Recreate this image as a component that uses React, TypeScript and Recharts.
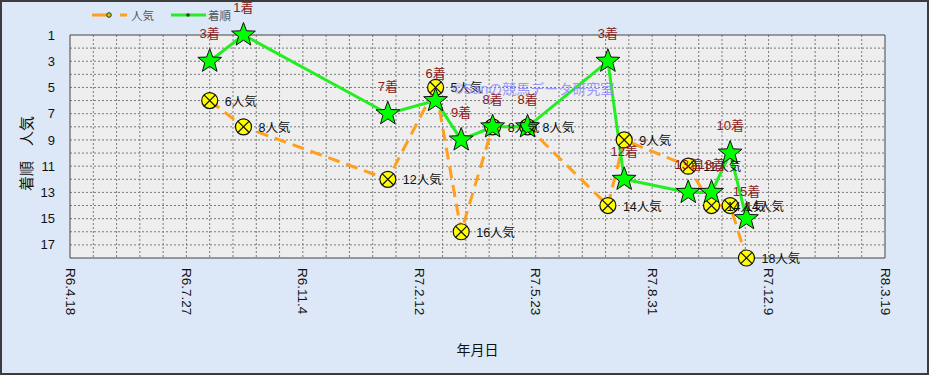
import React from "react";
import {
  ComposedChart,
  Line,
  XAxis,
  YAxis,
  CartesianGrid,
  LabelList,
  ReferenceArea,
} from "recharts";

// race dates, finishing position (着順) and popularity (人気)
const raceDates = [
  "2024-08-16",
  "2024-09-14",
  "2025-01-16",
  "2025-02-26",
  "2025-03-20",
  "2025-04-16",
  "2025-05-16",
  "2025-07-24",
  "2025-08-07",
  "2025-10-01",
  "2025-10-21",
  "2025-11-06",
  "2025-11-20",
];
const finishes = [3, 1, 7, 6, 9, 8, 8, 3, 12, 13, 13, 10, 15];
const popularity = [6, 8, 12, 5, 16, 8, 8, 14, 9, 11, 14, 14, 18];

const startDate = "2024-04-18";
const xTickDates = [
  "2024-04-18",
  "2024-07-27",
  "2024-11-04",
  "2025-02-12",
  "2025-05-23",
  "2025-08-31",
  "2025-12-09",
  "2026-03-19",
];
const yTicks = [1, 3, 5, 7, 9, 11, 13, 15, 17];

const DAY = 86400000;
const toDay = (s: string) =>
  Math.round((Date.parse(s + "T00:00:00Z") - Date.parse(startDate + "T00:00:00Z")) / DAY);

const fromDay = (d: number) => {
  const dt = new Date(Date.parse(startDate + "T00:00:00Z") + d * DAY);
  return `R${dt.getUTCFullYear() - 2018}.${dt.getUTCMonth() + 1}.${dt.getUTCDate()}`;
};

const xTicks = xTickDates.map(toDay);
const xMin = xTicks[0];
const xMax = xTicks[xTicks.length - 1];

const data = raceDates.map((d, i) => ({
  day: toDay(d),
  rank: finishes[i],
  pop: popularity[i],
}));

const minorX: number[] = [];
for (let d = xMin + 20; d < xMax; d += 20) minorX.push(d);
const minorY: number[] = [];
for (let v = 2; v < 18; v++) minorY.push(v);

const FONT = "'Liberation Sans', 'Noto Sans CJK JP', sans-serif";
const GREEN = "#22ee22";
const ORANGE = "#ff9f1c";

function StarDot(props: any) {
  const { cx, cy } = props;
  if (cx == null || cy == null) return null;
  const R = 12.5;
  const r = 5.2;
  const pts: string[] = [];
  for (let i = 0; i < 10; i++) {
    const a = -Math.PI / 2 + (i * Math.PI) / 5;
    const rad = i % 2 === 0 ? R : r;
    pts.push(`${cx + rad * Math.cos(a)},${cy + rad * Math.sin(a)}`);
  }
  return <polygon points={pts.join(" ")} fill="#00ff00" stroke="#111" strokeWidth={1} />;
}

function CrossDot(props: any) {
  const { cx, cy } = props;
  if (cx == null || cy == null) return null;
  const k = 5.7;
  return (
    <g>
      <circle cx={cx} cy={cy} r={8} fill="#ffff00" stroke="#111" strokeWidth={1.2} />
      <line x1={cx - k} y1={cy - k} x2={cx + k} y2={cy + k} stroke="#111" strokeWidth={1.2} />
      <line x1={cx - k} y1={cy + k} x2={cx + k} y2={cy - k} stroke="#111" strokeWidth={1.2} />
    </g>
  );
}

const XTick = (props: any) => {
  const { x, y, payload } = props;
  return (
    <text
      x={x}
      y={y}
      transform={`rotate(90 ${x} ${y})`}
      textAnchor="start"
      dominantBaseline="central"
      fontSize={13.5}
      fontFamily={FONT}
      fill="#111"
    >
      {fromDay(payload.value)}
    </text>
  );
};

const YLabel = (props: any) => {
  const { viewBox } = props;
  const x = viewBox.x + 26;
  const y = viewBox.y + viewBox.height / 2 + 7;
  return (
    <text
      x={x}
      y={y}
      transform={`rotate(-90 ${x} ${y})`}
      textAnchor="middle"
      dominantBaseline="central"
      fontSize={15}
      fill="#111"
      fontFamily={FONT}
    >
      着順　人気
    </text>
  );
};

// legend drawn apart from the chart so it does not take plot space
const LegendBox = () => (
  <svg
    width={160}
    height={20}
    style={{ position: "absolute", left: 92, top: 5, display: "block" }}
  >
    <line x1={0} y1={10} x2={16} y2={10} stroke={ORANGE} strokeWidth={3} />
    <circle cx={17} cy={10} r={2.3} fill="#c8c800" stroke="#333" strokeWidth={1} />
    <line x1={28} y1={10} x2={35} y2={10} stroke={ORANGE} strokeWidth={3} />
    <text x={39} y={14.5} fontSize={11.5} fill="#555" fontFamily={FONT}>
      人気
    </text>
    <line x1={79} y1={10} x2={114} y2={10} stroke={GREEN} strokeWidth={3} />
    <circle cx={96} cy={10} r={1.8} fill="#333" />
    <text x={116} y={14.5} fontSize={11.5} fill="#555" fontFamily={FONT}>
      着順
    </text>
  </svg>
);

export default function App() {
  return (
    <div
      style={{
        position: "relative",
        width: 929,
        height: 375,
        background: "#dce8f7",
        fontFamily: FONT,
        overflow: "hidden",
      }}
    >
      <style>{"body{margin:0}"}</style>
      <ComposedChart
        width={929}
        height={375}
        data={data}
        margin={{ top: 35, right: 44, bottom: 0, left: 0 }}
      >
        <CartesianGrid
          fill="#eeeeee"
          stroke="#7a7a7a"
          strokeDasharray="2 2"
          horizontalValues={minorY}
          verticalValues={minorX}
        />
        <XAxis
          dataKey="day"
          type="number"
          domain={[xMin, xMax]}
          ticks={xTicks}
          height={117}
          tickLine={false}
          axisLine={false}
          tickMargin={4}
          tick={<XTick />}
          interval={0}
          label={{
            value: "年月日",
            position: "insideBottom",
            offset: 20,
            fontSize: 14,
            fill: "#111",
            fontFamily: FONT,
          }}
        />
        <YAxis
          type="number"
          domain={[1, 18]}
          reversed
          ticks={yTicks}
          width={70}
          tickLine={false}
          axisLine={false}
          tickMargin={9}
          interval={0}
          tick={{ fontSize: 13, fill: "#111", fontFamily: FONT }}
          label={<YLabel />}
        />
        <ReferenceArea
          x1={xMin}
          x2={xMax}
          y1={1}
          y2={18}
          fill="none"
          stroke="#444"
          strokeWidth={1}
        />
        <Line
          dataKey="pop"
          name="人気"
          stroke={ORANGE}
          strokeWidth={3}
          strokeDasharray="12 7"
          dot={<CrossDot />}
          activeDot={false}
          isAnimationActive={false}
        >
          <LabelList
            dataKey="pop"
            content={(p: any) => (
              <text
                x={p.x + 15}
                y={p.y + 5}
                fontSize={12.5}
                fill="#111"
                fontFamily={FONT}
              >
                {p.value}人気
              </text>
            )}
          />
        </Line>
        <Line
          dataKey="rank"
          name="着順"
          stroke={GREEN}
          strokeWidth={3}
          dot={<StarDot />}
          activeDot={false}
          isAnimationActive={false}
        >
          <LabelList
            dataKey="rank"
            content={(p: any) => (
              <text
                x={p.x}
                y={p.y - 23}
                textAnchor="middle"
                fontSize={13}
                fill="#8b1a1a"
                fontFamily={FONT}
              >
                {p.value}着
              </text>
            )}
          />
        </Line>
      </ComposedChart>
      <LegendBox />
      <div
        style={{
          position: "absolute",
          left: 453,
          top: 78,
          fontSize: 14,
          color: "#8c8cff",
          opacity: 0.85,
          whiteSpace: "nowrap",
          pointerEvents: "none",
        }}
      >
        ©Sanの競馬データ研究室
      </div>
      <div
        style={{
          position: "absolute",
          inset: 0,
          border: "2px solid #3c3c3c",
          pointerEvents: "none",
        }}
      />
    </div>
  );
}
